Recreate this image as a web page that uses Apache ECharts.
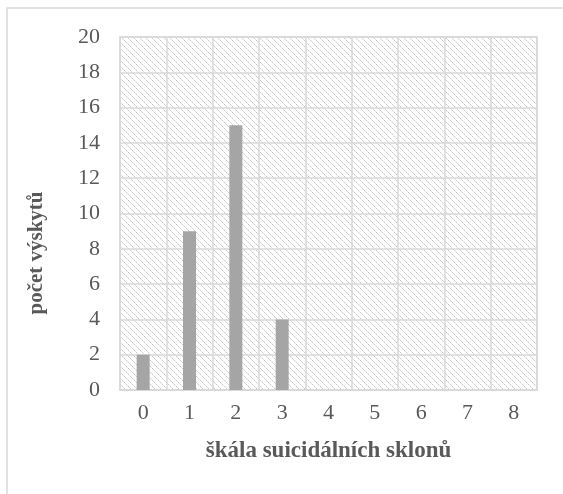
<!DOCTYPE html>
<html>
<head>
<meta charset="utf-8">
<script src="https://cdn.jsdelivr.net/npm/echarts@6/dist/echarts.min.js"></script>
<style>
  html, body { margin: 0; padding: 0; background: #fff; }
  #chart { width: 563px; height: 494px; }
</style>
</head>
<body>
<div id="chart"></div>
<script>
// Categories on the suicidal tendency scale and how often each occurred
const categories = ['0', '1', '2', '3', '4', '5', '6', '7', '8'];
const counts = [2, 9, 15, 4, 0, 0, 0, 0, 0];
const yTicks = { min: 0, max: 20, interval: 2 };

const xTitle = 'škála suicidálních sklonů';
const yTitle = 'počet výskytů';

// Diagonal hatch tile for the plot background
function hatchTile() {
  const size = 6;
  const c = document.createElement('canvas');
  c.width = size; c.height = size;
  const g = c.getContext('2d');
  g.fillStyle = '#ffffff';
  g.fillRect(0, 0, size, size);
  for (let i = 0; i < size; i++) {
    g.fillStyle = i % 2 === 0 ? '#c8c8c8' : '#dedede';
    g.fillRect(i, i, 1, 1);
  }
  return c;
}

const gridColor = '#d9d9d9';
const textColor = '#595959';
const font = '"Liberation Serif", "Times New Roman", serif';

const chart = echarts.init(document.getElementById('chart'), null, { renderer: 'canvas' });
chart.setOption({
  animation: false,
  backgroundColor: '#ffffff',
  textStyle: { fontFamily: font },
  grid: {
    left: 120, top: 37, right: 26, bottom: 104,
    show: true,
    backgroundColor: { image: hatchTile(), repeat: 'repeat' },
    borderColor: gridColor,
    borderWidth: 1.5
  },
  xAxis: {
    type: 'category',
    data: categories,
    name: xTitle,
    nameLocation: 'middle',
    nameGap: 50,
    nameTextStyle: { fontFamily: font, fontSize: 23, fontWeight: 'bold', color: textColor },
    axisLine: { show: true, lineStyle: { color: gridColor, width: 1.5 } },
    axisTick: { show: false },
    axisLabel: { fontFamily: font, fontSize: 22, color: textColor, margin: 12 },
    splitLine: { show: true, lineStyle: { color: gridColor, width: 1.5 } }
  },
  yAxis: {
    type: 'value',
    min: yTicks.min, max: yTicks.max, interval: yTicks.interval,
    axisLine: { show: false },
    axisTick: { show: false },
    axisLabel: { fontFamily: font, fontSize: 22, color: textColor, margin: 20 },
    splitLine: { show: true, lineStyle: { color: gridColor, width: 1.5 } }
  },
  graphic: [
    {
      type: 'rect',
      shape: { x: 7, y: 8, width: 600, height: 600 },
      style: { fill: null, stroke: gridColor, lineWidth: 1.5 },
      silent: true
    },
    {
      type: 'text',
      x: 37, y: 253,
      rotation: Math.PI / 2,
      style: {
        text: yTitle,
        fontFamily: font, fontSize: 21, fontWeight: 'bold',
        fill: textColor, align: 'center', verticalAlign: 'middle'
      }
    }
  ],
  series: [{
    type: 'bar',
    data: counts,
    barWidth: 13,
    itemStyle: { color: '#a5a5a5' }
  }]
});
</script>
</body>
</html>
